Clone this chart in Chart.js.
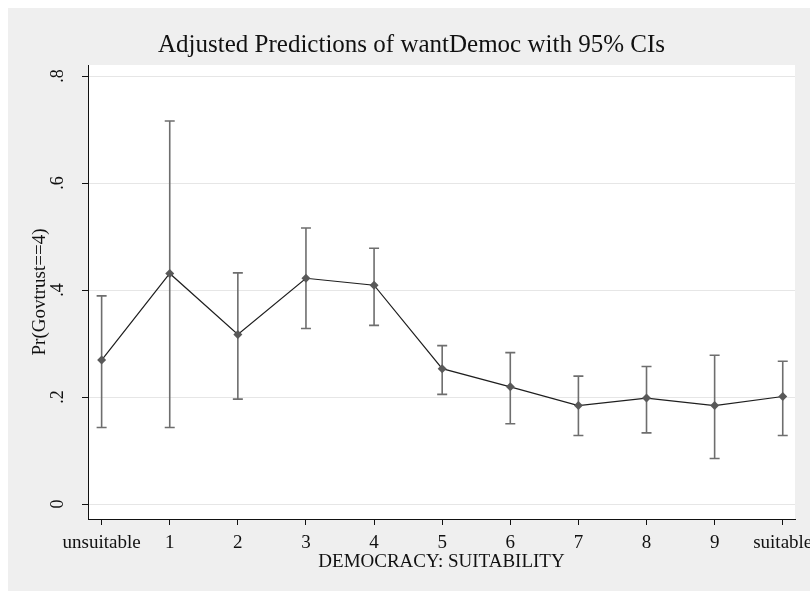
<!DOCTYPE html>
<html>
<head>
<meta charset="utf-8">
<script src="https://cdn.jsdelivr.net/npm/chart.js@4.4.1/dist/chart.umd.min.js"></script>
<style>
  html, body { margin: 0; padding: 0; background: #ffffff; }
  canvas { display: block; }
</style>
</head>
<body>
<canvas id="chart" width="810" height="593"></canvas>
<script>
// Predicted Pr(Govtrust==4) by democracy-suitability rating, with 95% CIs
const categories = ['unsuitable', '1', '2', '3', '4', '5', '6', '7', '8', '9', 'suitable'];
const margins    = [0.269, 0.431, 0.317, 0.422, 0.409, 0.253, 0.219, 0.184, 0.198, 0.184, 0.201];
const ciLower    = [0.143, 0.143, 0.196, 0.328, 0.334, 0.205, 0.150, 0.128, 0.133, 0.085, 0.128];
const ciUpper    = [0.389, 0.716, 0.432, 0.516, 0.478, 0.296, 0.283, 0.239, 0.257, 0.278, 0.267];
const yTickValues = [0, 0.2, 0.4, 0.6, 0.8];
const yTickLabels = ['0', '.2', '.4', '.6', '.8'];

const chartTitle = 'Adjusted Predictions of wantDemoc with 95% CIs';
const xAxisTitle = 'DEMOCRACY: SUITABILITY';
const yAxisTitle = 'Pr(Govtrust==4)';

const serif = '"Liberation Serif", "Times New Roman", Times, serif';
const ink = '#111111';

// Gray graph region with a white plot region behind the data
const panelBackground = {
  id: 'panelBackground',
  beforeDraw(chart) {
    const { ctx, width, height, chartArea: a } = chart;
    ctx.save();
    ctx.fillStyle = '#ffffff';
    ctx.fillRect(0, 0, width, height);
    ctx.fillStyle = '#efefef';
    ctx.fillRect(8, 8, width - 8, height - 10);
    ctx.fillStyle = '#ffffff';
    ctx.fillRect(a.left, a.top, a.right - a.left, a.bottom - a.top);
    ctx.restore();
  }
};

// Capped vertical confidence-interval spikes
const ciBars = {
  id: 'ciBars',
  beforeDatasetsDraw(chart) {
    const { ctx, scales: { x, y } } = chart;
    ctx.save();
    ctx.strokeStyle = '#6e6e6e';
    ctx.lineWidth = 1.6;
    categories.forEach((_, i) => {
      const px = x.getPixelForValue(i);
      const lo = y.getPixelForValue(ciLower[i]);
      const hi = y.getPixelForValue(ciUpper[i]);
      ctx.beginPath();
      ctx.moveTo(px, lo); ctx.lineTo(px, hi);
      ctx.moveTo(px - 5, lo); ctx.lineTo(px + 5, lo);
      ctx.moveTo(px - 5, hi); ctx.lineTo(px + 5, hi);
      ctx.stroke();
    });
    ctx.restore();
  }
};

new Chart(document.getElementById('chart'), {
  type: 'line',
  data: {
    datasets: [{
      data: margins.map((v, i) => ({ x: i, y: v })),
      borderColor: '#1e1e1e',
      borderWidth: 1.2,
      tension: 0,
      fill: false,
      pointStyle: 'rectRot',
      pointRadius: 4.5,
      pointBackgroundColor: '#595959',
      pointBorderColor: '#595959',
      pointBorderWidth: 0
    }]
  },
  options: {
    responsive: false,
    animation: false,
    events: [],
    layout: { padding: { left: 13, right: 0, top: 8, bottom: 0 } },
    plugins: {
      legend: { display: false },
      tooltip: { enabled: false },
      title: {
        display: true,
        text: chartTitle,
        color: ink,
        font: { family: serif, size: 25, weight: 'normal', lineHeight: 1.2 },
        padding: { top: 22, bottom: 5 }
      }
    },
    scales: {
      x: {
        type: 'linear',
        bounds: 'data',
        min: -0.2,
        max: 10.18,
        afterBuildTicks: s => { s.ticks = categories.map((_, i) => ({ value: i })); },
        ticks: {
          callback: (v, i) => categories[i],
          autoSkip: false,
          minRotation: 0,
          maxRotation: 0,
          padding: 7,
          color: ink,
          font: { family: serif, size: 19, lineHeight: 1.2 }
        },
        grid: { drawOnChartArea: false, tickLength: 6, tickColor: ink, tickWidth: 1 },
        border: { color: ink, width: 1 },
        title: {
          display: true,
          text: xAxisTitle,
          color: ink,
          font: { family: serif, size: 19, lineHeight: 1.2 },
          padding: { top: 0, bottom: 20 }
        },
        afterFit: s => { s.height = 74; s.paddingLeft = 0; s.paddingRight = 0; }
      },
      y: {
        type: 'linear',
        bounds: 'data',
        min: -0.028,
        max: 0.8206,
        afterBuildTicks: s => { s.ticks = yTickValues.map(v => ({ value: v })); },
        ticks: {
          callback: (v, i) => yTickLabels[i],
          minRotation: 90,
          maxRotation: 90,
          crossAlign: 'center',
          padding: 17,
          color: ink,
          font: { family: serif, size: 18, lineHeight: 1.2 }
        },
        grid: { color: '#e6e6e6', lineWidth: 1, tickLength: 6, tickColor: ink, tickWidth: 1 },
        border: { color: ink, width: 1 },
        title: {
          display: true,
          text: yAxisTitle,
          color: ink,
          font: { family: serif, size: 19, lineHeight: 1.2 },
          padding: { top: 16, bottom: 0 }
        },
        afterFit: s => { s.width = 75; s.paddingTop = 0; s.paddingBottom = 0; }
      },
      yRight: {
        position: 'right',
        display: true,
        grid: { display: false },
        border: { display: false },
        ticks: { display: false },
        afterFit: s => { s.width = 15; }
      }
    }
  },
  plugins: [panelBackground, ciBars]
});
</script>
</body>
</html>
